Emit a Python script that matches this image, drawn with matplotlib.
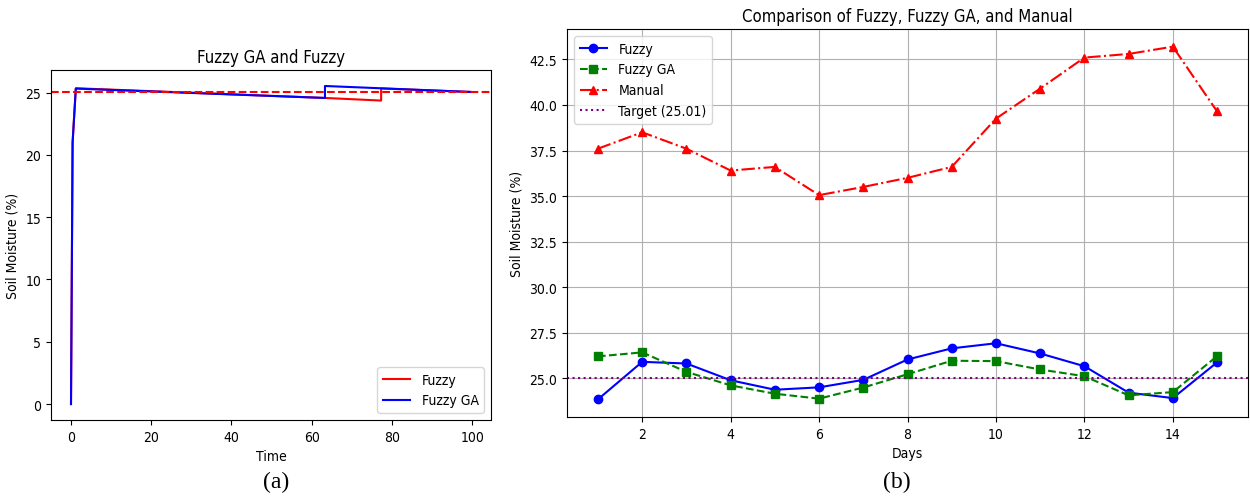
import matplotlib
matplotlib.use('Agg')
import matplotlib.pyplot as plt
from matplotlib import font_manager

# (a) time series
time_fuzzy = [0, 0.4, 1.2, 63.3, 77.3, 77.3, 99.7]
sm_fuzzy = [0, 21.0, 25.35, 24.57, 24.36, 25.33, 25.05]
time_ga = [0, 0.4, 1.2, 63.3, 63.3, 99.7]
sm_ga = [0, 21.0, 25.32, 24.57, 25.53, 25.05]
target_a = 25.01

# (b) daily comparison
days = list(range(1, 16))
fuzzy = [23.84, 25.9, 25.81, 24.89, 24.37, 24.5, 24.91, 26.03, 26.64, 26.92,
         26.36, 25.66, 24.21, 23.91, 25.87]
fuzzy_ga = [26.2, 26.42, 25.35, 24.61, 24.15, 23.88, 24.49, 25.22, 25.96, 25.94,
            25.48, 25.11, 24.06, 24.24, 26.21]
manual = [37.6, 38.5, 37.6, 36.4, 36.6, 35.05, 35.5, 36.0, 36.6, 39.25,
          40.9, 42.6, 42.8, 43.2, 39.65]
target_b = 25.01

# reference looks horizontally squeezed -> condensed face if there is one
names = sorted(set(f.name for f in font_manager.fontManager.ttflist))
cond = [n for n in names if 'Condensed' in n and 'DejaVu Sans' in n]
print(cond)
if cond:
    plt.rcParams['font.family'] = [cond[0], 'DejaVu Sans']
else:
    plt.rcParams['font.stretch'] = 'condensed'

fig = plt.figure(figsize=(12.5, 5.02), dpi=100)

#----- left panel
ax1 = fig.add_axes([0.0408, 0.1614, 0.352, 0.697])
ax1.plot(time_fuzzy, sm_fuzzy, color='red', lw=1.5, label='Fuzzy')
ax1.plot(time_ga, sm_ga, color='blue', lw=1.5, label='Fuzzy GA')
ax1.axhline(target_a, color='red', ls='--', lw=1.5)
ax1.set_title('Fuzzy GA and Fuzzy')
ax1.set_xlabel('Time')
ax1.set_ylabel('Soil Moisture (%)')
ax1.legend(loc='lower right')

#----- right panel
ax2 = fig.add_axes([0.4536, 0.1673, 0.5448, 0.7729])
ax2.plot(days, fuzzy, color='blue', marker='o', ls='-', lw=1.5, label='Fuzzy')
ax2.plot(days, fuzzy_ga, color='green', marker='s', ls='--', lw=1.5, label='Fuzzy GA')
ax2.plot(days, manual, color='red', marker='^', ls='-.', lw=1.5, label='Manual')
ax2.axhline(target_b, color='purple', ls=':', lw=1.5, label='Target (25.01)')
ax2.set_title('Comparison of Fuzzy, Fuzzy GA, and Manual')
ax2.set_xlabel('Days')
ax2.set_ylabel('Soil Moisture (%)')
ax2.grid(True)
ax2.legend(loc='upper left')

# captions
fig.text(0.2208, 0.028, '(a)', ha='center', family='Liberation Serif', fontsize=17)
fig.text(0.7176, 0.028, '(b)', ha='center', family='Liberation Serif', fontsize=17)

fig.savefig('out.png', dpi=100)
